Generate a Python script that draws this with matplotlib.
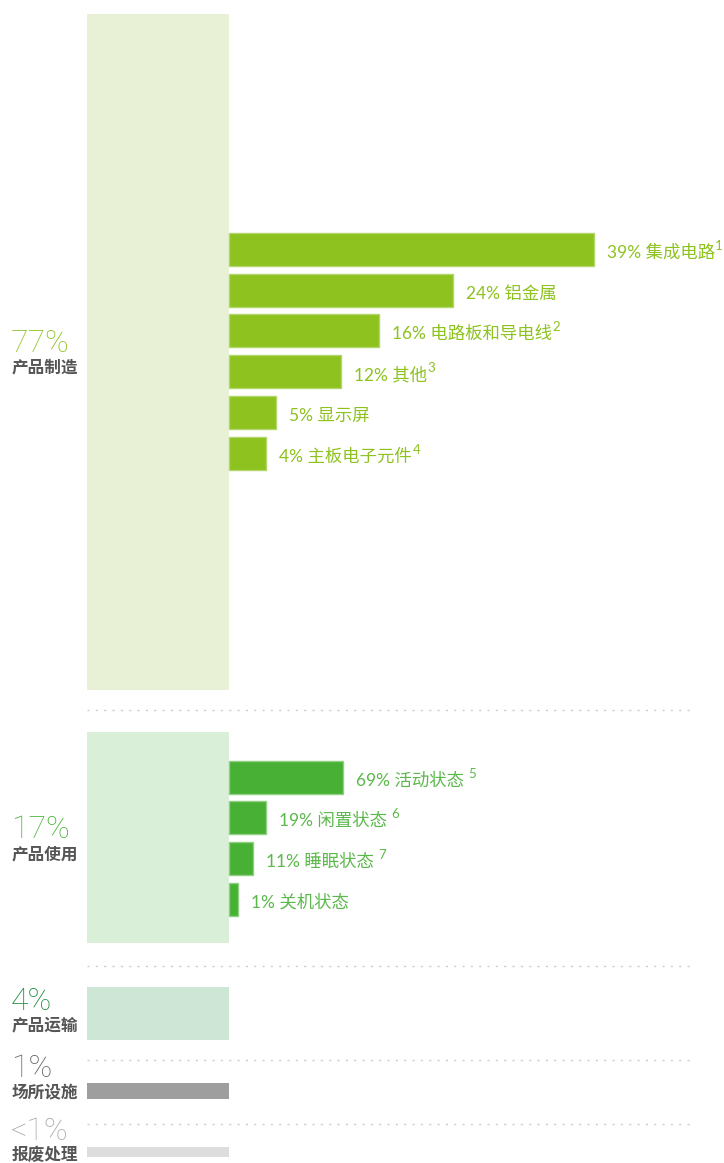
import matplotlib
matplotlib.use('Agg')
import matplotlib.pyplot as plt

plt.rcParams['font.family'] = ['Noto Sans CJK SC', 'DejaVu Sans']

# данные
stage_pct = ['77%', '17%', '4%', '1%', '<1%']
stage_names = ['产品制造', '产品使用', '产品运输', '场所设施', '报废处理']

mfg_items = ['集成电路', '铝金属', '电路板和导电线', '其他', '显示屏', '主板电子元件']
mfg_pct = [39, 24, 16, 12, 5, 4]
mfg_note = ['1', '', '2', '3', '', '4']

use_items = ['活动状态', '闲置状态', '睡眠状态', '关机状态']
use_pct = [69, 19, 11, 1]
use_note = ['5', '6', '7', '']

# раскладка (пиксели)
block_top = [14, 732, 987, 1083, 1147]
block_h = [676, 211, 53, 16, 10]
block_col = ['#e8f1d6', '#daefd8', '#cee6d5', '#9d9e9d', '#dcdddc']
pct_col = ['#8dc21f', '#4db33d', '#1e8e3e', '#666666', '#aaaaaa']
pct_base = [352, 838, 1010, 1077, 1140]
name_mid = [367, 854, 1025, 1092, 1155]
sep_y = [710, 966, 1060, 1124]

fig = plt.figure(figsize=(7.24, 11.63), dpi=100)
ax = fig.add_axes([0, 0, 1, 1])
ax.set_xlim(0, 724)
ax.set_ylim(1163, 0)
ax.axis('off')

# большие блоки
ax.bar([87] * 5, block_h, width=142, bottom=block_top, align='edge', color=block_col, linewidth=0)

for ii in range(5):
    ax.text(11, pct_base[ii], stage_pct[ii], color=pct_col[ii], fontsize=23,
            fontweight='light', family=['Roboto', 'DejaVu Sans'], va='baseline', ha='left')
    ax.text(12, name_mid[ii], stage_names[ii], color='#555555', fontsize=12,
            fontweight='bold', va='center', ha='left')

for yy in sep_y:
    ax.plot([87, 695], [yy, yy], color='#cccccc', lw=1, linestyle=(0, (1.5, 4.5)))

fig.canvas.draw()
renderer = fig.canvas.get_renderer()


def sub_bars(items, pct, notes, y0, k, b, col, edge, tcol, gap):
    ys = [y0 + ii * 40.7 for ii in range(len(items))]
    ws = [b + k * p for p in pct]
    ax.barh(ys, ws, left=229, height=33, color=col, edgecolor=edge, linewidth=1)
    for ii in range(len(items)):
        x0 = 229 + ws[ii] + 13
        t = ax.text(x0, ys[ii] + 8.5, '%d%% %s' % (pct[ii], items[ii]), color=tcol,
                    fontsize=12.5, va='baseline', ha='left',
                    family=['Lato', 'Noto Sans CJK SC'])
        if notes[ii]:
            bb = t.get_window_extent(renderer)
            xd = ax.transData.inverted().transform((bb.x1, bb.y1))
            ax.text(xd[0] + gap, ys[ii] + 0.5, notes[ii], color=tcol, fontsize=9.5,
                    va='baseline', ha='left', family=['Lato', 'DejaVu Sans'])


sub_bars(mfg_items, mfg_pct, mfg_note, 249.5, 9.35, 0, '#8dc21f', '#b3d66b', '#8dc21f', 0.5)
sub_bars(use_items, use_pct, use_note, 777, 1.54, 7.5, '#48b035', '#8fd083', '#5bb84b', 4)

fig.savefig('out.png', dpi=100)
